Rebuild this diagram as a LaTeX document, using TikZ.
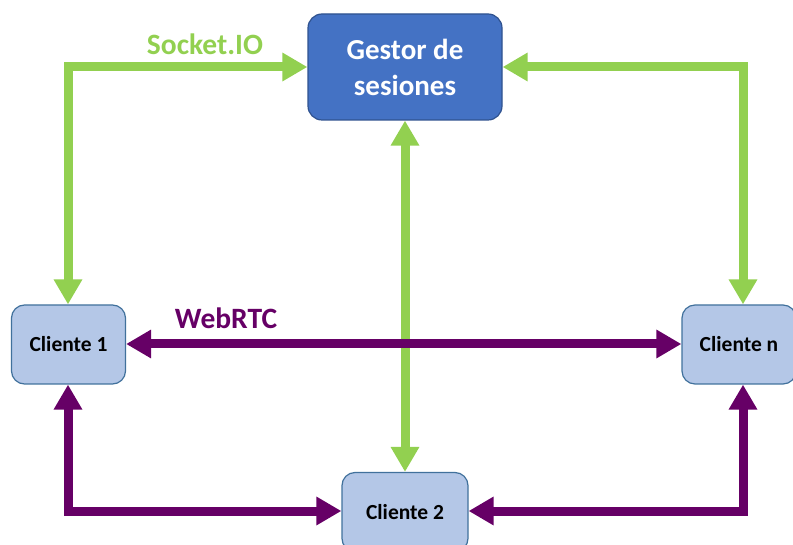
\documentclass[tikz,border=0pt]{standalone}
\usepackage{fontspec}
\setmainfont{Carlito}
\usetikzlibrary{arrows.meta}
\definecolor{gr}{HTML}{92D050}
\definecolor{pu}{HTML}{660066}
\definecolor{dblue}{HTML}{4472C4}
\definecolor{dborder}{HTML}{2F528F}
\definecolor{lblue}{HTML}{B4C7E7}
\definecolor{lborder}{HTML}{41719C}
\tikzset{
  gestorbox/.style={draw=dborder, line width=1.2pt, fill=dblue, rounded corners=14pt, minimum width=194pt, minimum height=106pt, text=white, font=\fontsize{29}{36}\selectfont\bfseries, align=center},
  clientbox/.style={draw=lborder, line width=1.2pt, fill=lblue, rounded corners=13pt, minimum width=114pt, minimum height=79pt, text=black, font=\fontsize{21.5}{26}\selectfont\bfseries},
  tip/.tip={Triangle[width=27pt,length=25pt]},
  garrow/.style={draw=gr, line width=9pt, {tip}-{tip}},
  parrow/.style={draw=pu, line width=9pt, {tip}-{tip}},
  lbl/.style={font=\fontsize{29.5}{34}\selectfont\bfseries}
}
\begin{document}
\begin{tikzpicture}[x=1pt,y=-1pt]
\useasboundingbox (0,0) rectangle (793,545);
\node[gestorbox] (g) at (405,67) {Gestor de\\sesiones};
\node[clientbox] (c1) at (68.5,344.5) {Cliente 1};
\node[clientbox] (cn) at (739,344.5) {Cliente n};
\node[clientbox, minimum width=126pt] (c2) at (405,512) {Cliente 2};
\coordinate (tl) at (68,67);
\coordinate (tr) at (743,67);
\coordinate (bl) at (68,511);
\coordinate (br) at (743,511);
% green connectors
\draw[garrow] (c1.north -| tl) -- (tl) -- (g.west);
\draw[garrow] (g.east) -- (tr) -- (cn.north -| tr);
\draw[garrow] (g.south) -- (c2.north);
% purple connectors
\draw[parrow] (c1.east |- 0,344) -- (cn.west |- 0,344);
\draw[parrow] (c1.south -| bl) -- (bl) -- (c2.west |- bl);
\draw[parrow] (c2.east |- br) -- (br) -- (cn.south -| br);
% labels
\node[lbl, text=gr] (lsock) at (205,44) {Socket.IO};
\node[lbl, text=pu] (lweb) at (226,318) {WebRTC};
\end{tikzpicture}
\end{document}
